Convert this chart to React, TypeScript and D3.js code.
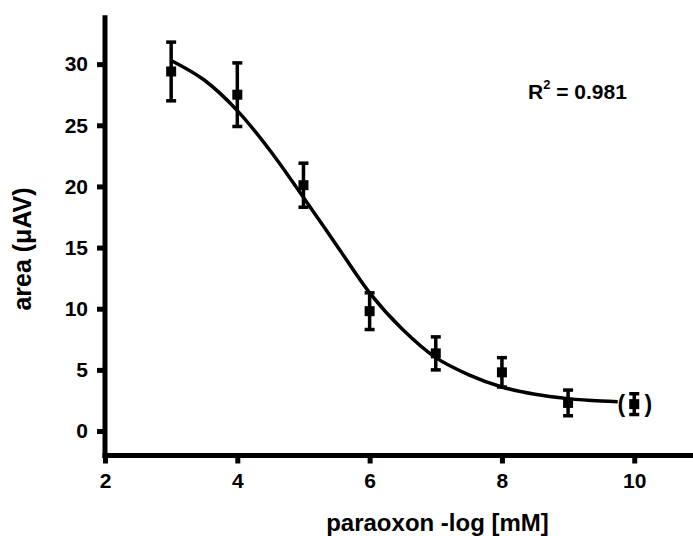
import React, { useEffect, useRef } from "react";
import * as d3 from "d3";

// measured points (mean +/- error)
const doses = [3, 4, 5, 6, 7, 8, 9, 10];
const means = [29.4, 27.5, 20.1, 9.8, 6.35, 4.8, 2.3, 2.2];
const errors = [2.4, 2.6, 1.8, 1.5, 1.35, 1.2, 1.05, 0.85];

// fitted curve
const fitX = [3, 3.5, 4, 4.5, 5, 5.5, 6, 6.5, 7, 7.5, 8, 8.5, 9, 9.5, 9.75];
const fitY = [30.3, 28.7, 26.2, 22.9, 19.1, 15.2, 11.3, 8.3, 6.0, 4.6, 3.6, 3.0, 2.65, 2.45, 2.4];

const xTicks = [2, 4, 6, 8, 10];
const yTicks = [0, 5, 10, 15, 20, 25, 30];

const FONT = "'Liberation Sans', Arial, Helvetica, sans-serif";

const App = () => {
  const ref = useRef<SVGSVGElement>(null);

  useEffect(() => {
    const svg = d3.select(ref.current);
    svg.selectAll("*").remove();
    const width = 693;
    const height = 536;
    svg.attr("width", width).attr("height", height);

    const x = d3.scaleLinear().domain([2, 11]).range([105, 700.4]);
    const y = d3.scaleLinear().domain([-2, 34]).range([455.5, 15.2]);

    const g = svg.append("g").style("font-family", FONT);

    const styleAxis = (sel: any) => {
      sel.select(".domain").remove();
      sel.selectAll("line").attr("stroke", "#000").attr("stroke-width", 5);
      sel
        .selectAll("text")
        .attr("fill", "#000")
        .style("font-size", "21px")
        .style("font-weight", "bold")
        .style("font-family", FONT);
    };

    // axes
    const yAxis = d3
      .axisLeft(y)
      .tickValues(yTicks)
      .tickSize(8)
      .tickSizeOuter(0)
      .tickPadding(9);
    g.append("g").attr("transform", `translate(${x(2)},0)`).call(yAxis).call(styleAxis);

    const xAxis = d3
      .axisBottom(x)
      .tickValues(xTicks)
      .tickSize(8)
      .tickSizeOuter(0)
      .tickPadding(10);
    g.append("g").attr("transform", `translate(0,${y(-2)})`).call(xAxis).call(styleAxis);

    g.append("line")
      .attr("x1", x(2))
      .attr("x2", x(2))
      .attr("y1", y(-2) + 2.5)
      .attr("y2", y(34))
      .attr("stroke", "#000")
      .attr("stroke-width", 5);
    g.append("line")
      .attr("x1", x(2) - 2.5)
      .attr("x2", width)
      .attr("y1", y(-2))
      .attr("y2", y(-2))
      .attr("stroke", "#000")
      .attr("stroke-width", 5);

    // fitted curve
    const line = d3
      .line<number>()
      .x((d, i) => x(fitX[i]))
      .y((d) => y(d))
      .curve(d3.curveCatmullRom.alpha(0.5));
    g.append("path")
      .attr("d", line(fitY))
      .attr("fill", "none")
      .attr("stroke", "#000")
      .attr("stroke-width", 3.5);

    // error bars
    const pts = doses.map((d, i) => ({ d, m: means[i], e: errors[i] }));
    const eb = g.selectAll(".eb").data(pts).enter().append("g");
    eb.append("line")
      .attr("x1", (p) => x(p.d))
      .attr("x2", (p) => x(p.d))
      .attr("y1", (p) => y(p.m - p.e))
      .attr("y2", (p) => y(p.m + p.e))
      .attr("stroke", "#000")
      .attr("stroke-width", 3.5);
    [1, -1].forEach((s) => {
      eb.append("line")
        .attr("x1", (p) => x(p.d) - 5)
        .attr("x2", (p) => x(p.d) + 5)
        .attr("y1", (p) => y(p.m + s * p.e))
        .attr("y2", (p) => y(p.m + s * p.e))
        .attr("stroke", "#000")
        .attr("stroke-width", 3.5);
    });
    eb.append("rect")
      .attr("x", (p) => x(p.d) - 5)
      .attr("y", (p) => y(p.m) - 5)
      .attr("width", 10)
      .attr("height", 10)
      .attr("fill", "#000");

    // parentheses round the excluded point
    const last = pts[pts.length - 1];
    const paren = (dx: number, t: string) =>
      g
        .append("text")
        .attr("x", x(last.d) + dx)
        .attr("y", y(last.m) + 8)
        .attr("text-anchor", "middle")
        .style("font-size", "23px")
        .style("font-weight", "bold")
        .text(t);
    paren(-13, "(");
    paren(14, ")");

    // R squared
    const r2 = g
      .append("text")
      .attr("x", 528)
      .attr("y", 99)
      .style("font-size", "21px")
      .style("font-weight", "bold");
    r2.append("tspan").text("R");
    r2.append("tspan").attr("dy", -10).style("font-size", "13px").text("2");
    r2.append("tspan").attr("dy", 10).text(" = 0.981");

    // axis titles
    g.append("text")
      .attr("x", 437.5)
      .attr("y", 531)
      .attr("text-anchor", "middle")
      .style("font-size", "24px")
      .style("font-weight", "bold")
      .text("paraoxon -log [mM]");
    g.append("text")
      .attr("transform", `translate(31,249) rotate(-90)`)
      .attr("text-anchor", "middle")
      .style("font-size", "25px")
      .style("font-weight", "bold")
      .text("area (\u03bcAV)");
  }, []);

  return (
    <svg
      ref={ref}
      style={{ position: "absolute", left: 0, top: 0, background: "#fff" }}
    ></svg>
  );
};

export default App;
